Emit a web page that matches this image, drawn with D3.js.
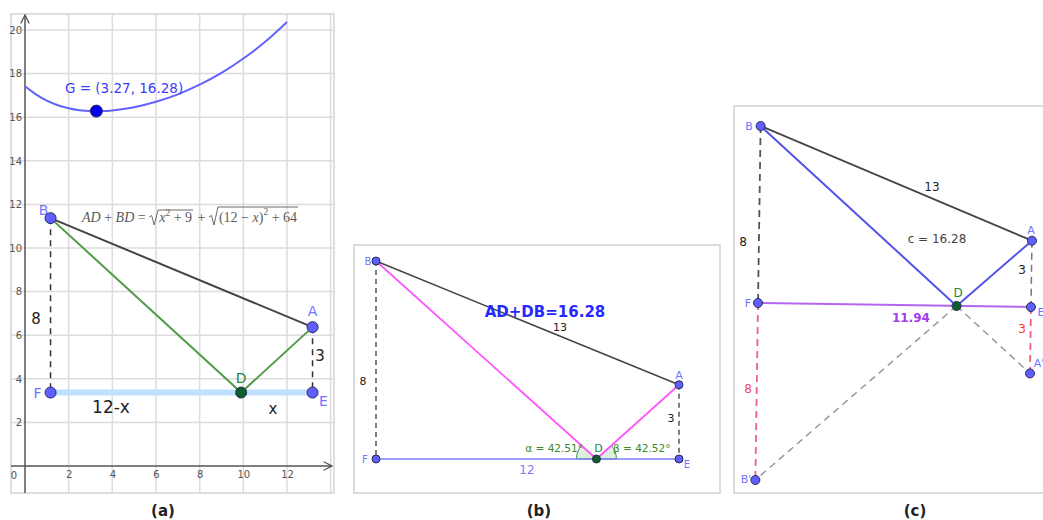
<!DOCTYPE html>
<html>
<head>
<meta charset="utf-8">
<script src="https://cdn.jsdelivr.net/npm/d3@7"></script>
<style>
  body { margin: 0; background: #fff; }
  svg text { font-family: "DejaVu Sans", sans-serif; }
  svg text.tex { font-family: "Liberation Serif", "DejaVu Serif", serif; white-space: pre; }
</style>
</head>
<body>
<script>
// Data: geometry of the reflection problem (units)
const ptNames = ['B', 'A', 'F', 'E', 'D'];
const ptX = [0, 12, 0, 12, 8.73];
const ptY = [8, 3, 0, 0, 0];
const reflNames = ["A'", "B'"];
const reflX = [12, 0];
const reflY = [-3, -8];
const originA = [1.17, 3.37]; // where F sits on the grid of panel (a)

// Panel (a) axes and sampled curve AD+BD against x
const xTicks = [2, 4, 6, 8, 10, 12];
const yTicks = [2, 4, 6, 8, 10, 12, 14, 16, 18, 20];
const xGrid = [2, 4, 6, 8, 10, 12, 14];
const curveX = [0, 0.5, 1, 1.5, 2, 2.5, 3, 3.5, 4, 5, 6, 7, 8, 9, 10, 11, 12];
const curveY = [17.42, 17.05, 16.76, 16.55, 16.41, 16.32, 16.28, 16.28, 16.31, 16.46, 16.71, 17.05, 17.49, 18.03, 18.69, 19.46, 20.37];
const minX = 3.27;
const minY = 16.28;

// Labels
const angleLabels = ['α = 42.51°', 'β = 42.52°'];
const sumLabel = 'AD+DB=16.28';
const cLabel = 'c = 16.28';
const feLabel = '11.94';

const svg = d3.select('body').append('svg')
  .attr('width', 1043)
  .attr('height', 520);

const ptFill = '#5f5fff';
const ptLabel = '#7474ff';
const green = '#1d8a3c';

const drawPoint = (g, x, y, r, fill) => {
  g.append('circle')
    .attr('cx', x).attr('cy', y).attr('r', r)
    .attr('fill', fill || ptFill)
    .attr('stroke', '#2a2a55')
    .attr('stroke-width', 1);
};
const line = (g, p, q, color, width, dash) => {
  g.append('line')
    .attr('x1', p[0]).attr('y1', p[1]).attr('x2', q[0]).attr('y2', q[1])
    .attr('stroke', color).attr('stroke-width', width)
    .attr('stroke-dasharray', dash || null);
};
const label = (g, x, y, txt, size, color, anchor, weight) => {
  return g.append('text')
    .attr('x', x).attr('y', y)
    .attr('text-anchor', anchor || 'middle')
    .attr('font-size', size)
    .attr('font-weight', weight || 'normal')
    .attr('fill', color)
    .text(txt);
};

// ---------- Panel (a) ----------
const xA = d3.scaleLinear().domain([0, 12]).range([25, 287]);
const yA = d3.scaleLinear().domain([0, 20]).range([466, 30]);
const pa = svg.append('g');

pa.append('rect')
  .attr('x', 11).attr('y', 14).attr('width', 323).attr('height', 479)
  .attr('fill', 'none').attr('stroke', '#d4d4d4').attr('stroke-width', 1.5);

pa.append('g').selectAll('line').data(xGrid).join('line')
  .attr('x1', d => xA(d)).attr('x2', d => xA(d))
  .attr('y1', 14).attr('y2', 493)
  .attr('stroke', '#dcdcdc').attr('stroke-width', 1.5);
pa.append('g').selectAll('line').data(yTicks).join('line')
  .attr('y1', d => yA(d)).attr('y2', d => yA(d))
  .attr('x1', 11).attr('x2', 334)
  .attr('stroke', '#dcdcdc').attr('stroke-width', 1.5);

// axes with arrows
svg.append('defs').append('marker')
  .attr('id', 'arrow')
  .attr('viewBox', '0 0 10 10')
  .attr('refX', 9).attr('refY', 5)
  .attr('markerWidth', 7).attr('markerHeight', 7)
  .attr('orient', 'auto')
  .append('path')
  .attr('d', 'M1,1 L9,5 L1,9')
  .attr('fill', 'none').attr('stroke', '#555').attr('stroke-width', 1.2);

pa.append('line')
  .attr('x1', xA(0)).attr('y1', 493).attr('x2', xA(0)).attr('y2', 15)
  .attr('stroke', '#555').attr('stroke-width', 1.5)
  .attr('marker-end', 'url(#arrow)');
pa.append('line')
  .attr('x1', 11).attr('y1', yA(0)).attr('x2', 332).attr('y2', yA(0))
  .attr('stroke', '#555').attr('stroke-width', 1.5)
  .attr('marker-end', 'url(#arrow)');

const axB = pa.append('g')
  .attr('transform', `translate(0,${yA(0)})`)
  .call(d3.axisBottom(xA).tickValues(xTicks).tickSize(0).tickPadding(5));
axB.select('.domain').remove();
const axL = pa.append('g')
  .attr('transform', `translate(${xA(0)},0)`)
  .call(d3.axisLeft(yA).tickValues(yTicks).tickSize(0).tickPadding(3));
axL.select('.domain').remove();
pa.selectAll('.tick text')
  .attr('font-size', 10).attr('fill', '#555')
  .attr('font-family', '"DejaVu Sans", sans-serif');
label(pa, 14, 479, '0', 10, '#555');

// curve
pa.append('path')
  .datum(curveX.map((x, i) => [x, curveY[i]]))
  .attr('d', d3.line().x(d => xA(d[0])).y(d => yA(d[1])).curve(d3.curveCatmullRom))
  .attr('fill', 'none').attr('stroke', '#6262ff').attr('stroke-width', 2);
drawPoint(pa, xA(minX), yA(minY), 6, '#0000ee');
label(pa, 65, 93, `G = (${minX}, ${minY})`, 13.5, '#3c3cff', 'start')
  .attr('font-family', '"Open Sans", sans-serif');

// geometry in panel (a)
const pA = i => [xA(ptX[i] + originA[0]), yA(ptY[i] + originA[1])];
line(pa, pA(2), pA(3), '#bfe0ff', 6);
line(pa, pA(0), pA(2), '#333', 1.5, '6,5');
line(pa, pA(1), pA(3), '#333', 1.5, '6,5');
line(pa, pA(0), pA(1), '#444', 2);
line(pa, pA(0), pA(4), '#4f9a45', 2);
line(pa, pA(4), pA(1), '#4f9a45', 2);
[0, 1, 2, 3].forEach(i => drawPoint(pa, pA(i)[0], pA(i)[1], 5.5));
drawPoint(pa, pA(4)[0], pA(4)[1], 5.5, '#0b5f2a');
label(pa, pA(0)[0] - 7, pA(0)[1] - 3, 'B', 14, ptLabel);
label(pa, pA(1)[0], pA(1)[1] - 11, 'A', 14, ptLabel);
label(pa, pA(2)[0] - 13, pA(2)[1] + 5, 'F', 14, ptLabel);
label(pa, pA(3)[0] + 11, pA(3)[1] + 13, 'E', 14, ptLabel);
label(pa, pA(4)[0], pA(4)[1] - 10, 'D', 14, green);
label(pa, 36, 324, '8', 15, '#222');
label(pa, 320, 361, '3', 15, '#222');
label(pa, 111, 413, '12-x', 17, '#222');
label(pa, 273, 414, 'x', 15, '#222');

// formula AD + BD = sqrt(x^2+9) + sqrt((12-x)^2+64)
const fg = pa.append('g').attr('fill', '#5a5a5a');
let cx = 82;
const fBase = 222;
const piece = (txt, italic, size, dy) => {
  const t = fg.append('text')
    .attr('class', 'tex')
    .attr('x', cx).attr('y', fBase + (dy || 0))
    .attr('font-size', size || 14)
    .attr('font-style', italic ? 'italic' : 'normal')
    .text(txt);
  cx += t.node().getComputedTextLength();
};
const radical = (top, build) => {
  const x0 = cx;
  cx += 10;
  build();
  fg.append('path')
    .attr('d', `M${x0},${fBase - 5} L${x0 + 2.5},${fBase - 6.5} L${x0 + 5},${fBase + 3} L${x0 + 9},${fBase - top} L${cx + 1},${fBase - top}`)
    .attr('fill', 'none').attr('stroke', '#5a5a5a').attr('stroke-width', 0.9);
  cx += 2;
};
piece('AD', true); piece(' + ', false); piece('BD', true); piece(' = ', false);
radical(12, () => { piece('x', true); piece('2', false, 9.5, -6); piece(' + 9', false); });
piece(' + ', false);
radical(15, () => { piece('(12 − ', false); piece('x', true); piece(')', false); piece('2', false, 9.5, -7); piece(' + 64', false); });

label(svg, 163, 516, '(a)', 15, '#222', 'middle', 'bold');

// ---------- Panel (b) ----------
const xB = d3.scaleLinear().domain([0, 12]).range([376, 679]);
const yB = d3.scaleLinear().domain([0, 8]).range([459, 261]);
const pb = svg.append('g');
pb.append('rect')
  .attr('x', 354).attr('y', 245).attr('width', 366).attr('height', 248)
  .attr('fill', 'none').attr('stroke', '#d0d0d0').attr('stroke-width', 1.5);
const pB = i => [xB(ptX[i]), yB(ptY[i])];
const D = pB(4);

// angle wedges
const wedge = d3.arc().innerRadius(0).outerRadius(20);
const angB = Math.atan2(ptY[0] - ptY[4], ptX[4] - ptX[0]);
const angA = Math.atan2(ptY[1] - ptY[4], ptX[1] - ptX[4]);
pb.append('path')
  .attr('transform', `translate(${D[0]},${D[1]})`)
  .attr('d', wedge({ startAngle: -Math.PI / 2, endAngle: -Math.PI / 2 + angB }))
  .attr('fill', '#ddeedd').attr('stroke', '#3c9a3c').attr('stroke-width', 1);
pb.append('path')
  .attr('transform', `translate(${D[0]},${D[1]})`)
  .attr('d', wedge({ startAngle: Math.PI / 2 - angA, endAngle: Math.PI / 2 }))
  .attr('fill', '#ddeedd').attr('stroke', '#3c9a3c').attr('stroke-width', 1);

line(pb, pB(2), pB(3), '#7c7cff', 1.5);
line(pb, pB(0), pB(2), '#555', 1.5, '5,4');
line(pb, pB(1), pB(3), '#555', 1.5, '5,4');
line(pb, pB(0), pB(1), '#444', 1.5);
line(pb, pB(0), D, '#ff55ff', 1.8);
line(pb, D, pB(1), '#ff55ff', 1.8);
[0, 1, 2, 3].forEach(i => drawPoint(pb, pB(i)[0], pB(i)[1], 4));
drawPoint(pb, D[0], D[1], 4, '#0b5f2a');
label(pb, pB(0)[0] - 8, pB(0)[1] + 4, 'B', 10, ptLabel);
label(pb, pB(1)[0], pB(1)[1] - 6, 'A', 11, ptLabel);
label(pb, pB(2)[0] - 11, pB(2)[1] + 4, 'F', 10, ptLabel);
label(pb, pB(3)[0] + 8, pB(3)[1] + 9, 'E', 10, ptLabel);
label(pb, D[0] + 2, D[1] - 7, 'D', 11, green);
label(pb, 545, 317, sumLabel, 15, '#2727ff', 'middle', 'bold');
label(pb, 560, 331, '13', 11, '#222');
label(pb, 363, 385, '8', 11, '#222');
label(pb, 671, 422, '3', 11, '#222');
label(pb, 527, 474, '12', 12, '#7c7cff');
label(pb, 583, 452, angleLabels[0], 10.5, '#3a8a2a', 'end');
label(pb, 613, 452, angleLabels[1], 10.5, '#3a8a2a', 'start');
label(svg, 539, 516, '(b)', 15, '#222', 'middle', 'bold')
  .attr('font-family', '"DejaVu Serif", serif');

// ---------- Panel (c) ----------
const xC = d3.scaleLinear().domain([0, 12]).range([0, 273]);
const yC = d3.scaleLinear().domain([0, 8]).range([0, -177]);
const rot = 0.85 * Math.PI / 180;
const pc = (x, y) => {
  const X = xC(x), Y = yC(y);
  return [758 + X * Math.cos(rot) - Y * Math.sin(rot), 303 + X * Math.sin(rot) + Y * Math.cos(rot)];
};
const pC = i => pc(ptX[i], ptY[i]);
const rC = i => pc(reflX[i], reflY[i]);
const pcg = svg.append('g');
pcg.append('rect')
  .attr('x', 734).attr('y', 106).attr('width', 330).attr('height', 387)
  .attr('fill', 'none').attr('stroke', '#d0d0d0').attr('stroke-width', 1.5);
line(pcg, pC(2), rC(1), '#f06080', 1.8, '7,5');
line(pcg, pC(3), rC(0), '#f06080', 1.8, '7,5');
line(pcg, pC(4), rC(1), '#999', 1.5, '7,5');
line(pcg, pC(4), rC(0), '#999', 1.5, '7,5');
line(pcg, pC(0), pC(2), '#555', 1.8, '7,5');
line(pcg, pC(1), pC(3), '#777', 1.5, '7,5');
line(pcg, pC(2), pC(3), '#b466f2', 2);
line(pcg, pC(0), pC(1), '#444', 1.8);
line(pcg, pC(0), pC(4), '#5252e8', 2);
line(pcg, pC(4), pC(1), '#5252e8', 2);
[0, 1, 2, 3].forEach(i => drawPoint(pcg, pC(i)[0], pC(i)[1], 4.5));
[0, 1].forEach(i => drawPoint(pcg, rC(i)[0], rC(i)[1], 4.5));
drawPoint(pcg, pC(4)[0], pC(4)[1], 4.5, '#0b5f2a');
label(pcg, 749, 130, 'B', 11, ptLabel);
label(pcg, 1031, 234, 'A', 11, ptLabel);
label(pcg, 748, 307, 'F', 11, ptLabel);
label(pcg, 1041, 316, 'E', 11, ptLabel);
label(pcg, 958, 297, 'D', 12, green);
label(pcg, 1039, 367, "A'", 11, ptLabel);
label(pcg, 746, 483, "B'", 11, ptLabel);
label(pcg, 932, 191, '13', 12, '#222');
label(pcg, 937, 243, cLabel, 12, '#444');
label(pcg, 743, 246, '8', 12, '#222');
label(pcg, 1022, 274, '3', 12, '#222');
label(pcg, 911, 322, feLabel, 12, '#a43cf2', 'middle', 'bold');
label(pcg, 1022, 333, '3', 12, '#ff3535');
label(pcg, 748, 393, '8', 12, '#ee4a6a');
label(svg, 915, 516, '(c)', 15, '#222', 'middle', 'bold');
</script>
</body>
</html>
